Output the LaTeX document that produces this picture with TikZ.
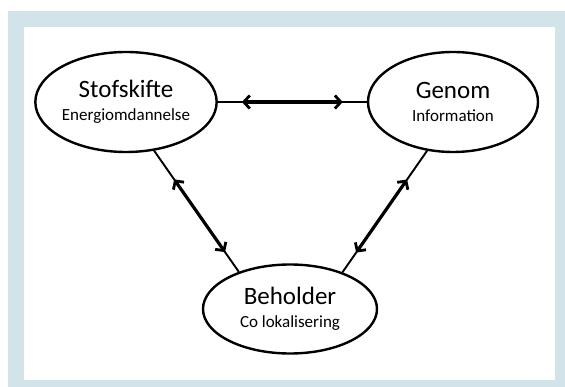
\documentclass[tikz,border=0pt]{standalone}
\usepackage{fontspec}
\setmainfont{Carlito}
\usetikzlibrary{shapes.geometric,arrows.meta}
\definecolor{framebg}{HTML}{D3E3EA}
\tikzset{
  oval/.style={ellipse, draw=black, line width=2.4pt, fill=white, inner sep=0pt, align=center, font=\fontsize{17}{23}\selectfont},
  conn/.style={line width=1.9pt},
  dbl/.style={line width=3.2pt, {Straight Barb[length=6pt,width=13pt,line width=2.8pt]}-{Straight Barb[length=6pt,width=13pt,line width=2.8pt]}},
}
\newcommand{\mytwo}[2]{{\fontsize{25}{23}\selectfont #1}\\#2}
\begin{document}
\begin{tikzpicture}[x=1pt,y=-1pt]
\useasboundingbox (0,0) rectangle (565,387);
\fill[framebg] (8,11) rectangle (565,387);
\fill[white] (24,27) rectangle (555,380);
\node[oval, minimum width=178pt, minimum height=100pt] (s) at (126,102) {\mytwo{Stofskifte}{Energiomdannelse}};
\node[oval, minimum width=170pt, minimum height=100pt] (g) at (453,102) {\mytwo{Genom}{Information}};
\node[oval, minimum width=174pt, minimum height=89pt] (b) at (290,309) {\mytwo{Beholder}{Co lokalisering}};
\draw[conn] (s.east) -- (g.west);
\draw[dbl, shorten <=24pt, shorten >=24pt] (s.east) -- (g.west);
\draw[conn] (s.-60) -- (b.144);
\draw[dbl, shorten <=35pt, shorten >=24pt] (s.-60) -- (b.144);
\draw[conn] (g.-118) -- (b.35);
\draw[dbl, shorten <=35pt, shorten >=24pt] (g.-118) -- (b.35);
\end{tikzpicture}
\end{document}
